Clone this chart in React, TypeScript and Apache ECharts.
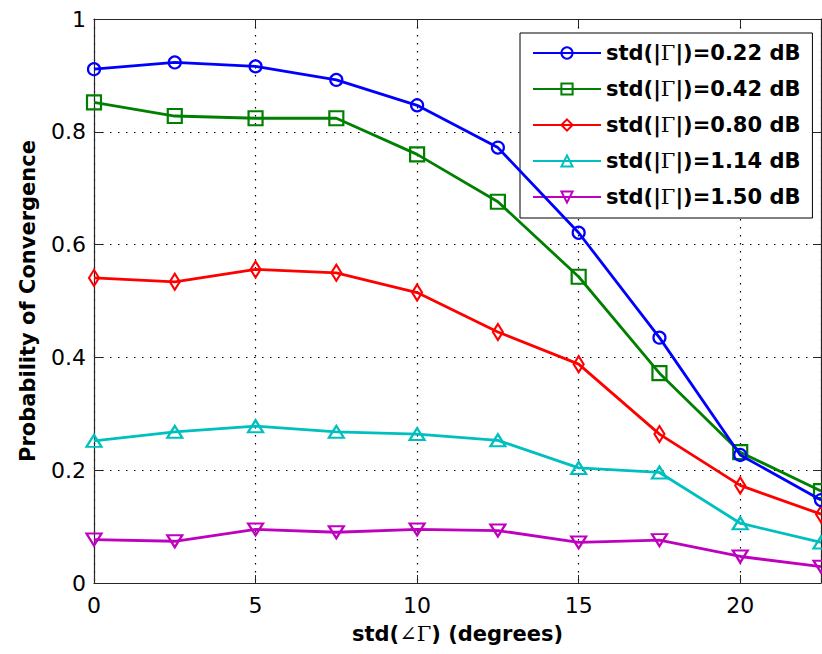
import React, { useEffect, useRef } from "react";
import * as echarts from "echarts";

const xValues = [0, 2.5, 5, 7.5, 10, 12.5, 15, 17.5, 20, 22.5];
const seriesNames = [
  "std(|Γ|)=0.22 dB",
  "std(|Γ|)=0.42 dB",
  "std(|Γ|)=0.80 dB",
  "std(|Γ|)=1.14 dB",
  "std(|Γ|)=1.50 dB",
];
const blueValues = [0.911, 0.923, 0.916, 0.892, 0.847, 0.772, 0.621, 0.435, 0.227, 0.147];
const greenValues = [0.852, 0.828, 0.824, 0.824, 0.76, 0.676, 0.543, 0.372, 0.232, 0.163];
const redValues = [0.541, 0.534, 0.556, 0.55, 0.515, 0.445, 0.388, 0.264, 0.173, 0.122];
const cyanValues = [0.252, 0.268, 0.278, 0.268, 0.264, 0.253, 0.204, 0.196, 0.106, 0.072];
const magentaValues = [0.077, 0.074, 0.095, 0.09, 0.095, 0.093, 0.072, 0.076, 0.047, 0.029];
const xTicks = [0, 5, 10, 15, 20];
const yTicks = [0, 0.2, 0.4, 0.6, 0.8, 1];

const colors = ["#0000FF", "#008000", "#FF0000", "#00BFBF", "#BF00BF"];
const symbols: any[] = ["circle", "rect", "diamond", "triangle", "triangle"];
const symbolSizes: any[] = [12, 14, [10, 16], [15, 12], [15, 12]];
const symbolRotates = [0, 0, 0, 0, 180];
const allValues = [blueValues, greenValues, redValues, cyanValues, magentaValues];

const SANS = "'DejaVu Sans', sans-serif";
const SERIF = "'DejaVu Serif', serif";

export default function App() {
  const ref = useRef<HTMLDivElement>(null);
  useEffect(() => {
    if (!ref.current) return;
    const chart = echarts.init(ref.current, undefined, { renderer: "svg" });
    const gridStyle = {
      show: true,
      lineStyle: { color: "#000", width: 1.2, type: [1.5, 6.5] as any },
    };
    const series = allValues.map((vals, i) => ({
      name: seriesNames[i],
      type: "line",
      data: vals.map((v, j) => [xValues[j], v]),
      symbol: symbols[i],
      symbolSize: symbolSizes[i],
      symbolRotate: symbolRotates[i],
      showAllSymbol: true,
      clip: false,
      lineStyle: { color: colors[i], width: 2.8 },
      itemStyle: { color: "rgba(255,255,255,0)", borderColor: colors[i], borderWidth: 2.2 },
      emphasis: { disabled: true },
      z: 10 - i,
    }));
    chart.setOption({
      animation: false,
      backgroundColor: "#fff",
      textStyle: { fontFamily: SANS },
      grid: { left: 94, top: 19, right: 1, bottom: 71, containLabel: false },
      legend: {
        orient: "vertical",
        left: 520,
        top: 33,
        padding: [9, 12, 10, 12],
        itemGap: 14,
        itemWidth: 68,
        itemHeight: 14,
        backgroundColor: "#fff",
        borderColor: "#000",
        borderWidth: 1,
        borderRadius: 0,
        data: seriesNames,
        formatter: (name: string) => name.replace("Γ", "{g|Γ}"),
        textStyle: {
          fontFamily: SANS,
          fontWeight: "bold",
          fontSize: 21,
          lineHeight: 22,
          color: "#000",
          rich: {
            g: { fontFamily: SERIF, fontWeight: "normal", fontSize: 21, lineHeight: 22, color: "#000" },
          },
        },
      },
      xAxis: [
        {
          type: "value",
          min: 0,
          max: 22.5,
          interval: 5,
          name: "std({g|∠Γ}) (degrees)",
          nameLocation: "middle",
          nameGap: 40,
          nameTextStyle: {
            fontFamily: SANS,
            fontWeight: "bold",
            fontSize: 21,
            color: "#000",
            rich: { g: { fontFamily: SERIF, fontWeight: "normal", fontSize: 21, color: "#000" } },
          },
          axisLine: { show: true, onZero: false, lineStyle: { color: "#262626", width: 1.2 } },
          axisTick: { show: true, inside: true, length: 8, lineStyle: { color: "#262626" } },
          axisLabel: {
            fontFamily: SANS,
            fontSize: 22,
            color: "#000",
            margin: 11,
            showMaxLabel: false,
            formatter: (v: number) => (xTicks.includes(v) ? String(v) : ""),
          },
          splitLine: gridStyle,
        },
        {
          type: "value",
          position: "top",
          min: 0,
          max: 22.5,
          interval: 5,
          axisLine: { show: true, onZero: false, lineStyle: { color: "#262626", width: 1.2 } },
          axisTick: { show: true, inside: true, length: 8, lineStyle: { color: "#262626" } },
          axisLabel: { show: false },
          splitLine: { show: false },
        },
      ],
      yAxis: [
        {
          type: "value",
          min: 0,
          max: 1,
          interval: 0.2,
          name: "Probability of Convergence",
          nameLocation: "middle",
          nameGap: 56,
          nameRotate: 90,
          nameTextStyle: { fontFamily: SANS, fontWeight: "bold", fontSize: 21, color: "#000" },
          axisLine: { show: true, onZero: false, lineStyle: { color: "#262626", width: 1.2 } },
          axisTick: { show: true, inside: true, length: 8, lineStyle: { color: "#262626" } },
          axisLabel: {
            fontFamily: SANS,
            fontSize: 22,
            color: "#000",
            margin: 8,
            formatter: (v: number) => {
              const t = yTicks.find((y) => Math.abs(y - v) < 1e-9);
              return t === undefined ? "" : String(t);
            },
          },
          splitLine: gridStyle,
        },
        {
          type: "value",
          position: "right",
          min: 0,
          max: 1,
          interval: 0.2,
          axisLine: { show: true, onZero: false, lineStyle: { color: "#262626", width: 1.2 } },
          axisTick: { show: true, inside: true, length: 8, lineStyle: { color: "#262626" } },
          axisLabel: { show: false },
          splitLine: { show: false },
        },
      ],
      series,
    });
    return () => chart.dispose();
  }, []);
  return (
    <div
      ref={ref}
      style={{ position: "fixed", left: 0, top: 0, width: 822, height: 654, background: "#fff" }}
    />
  );
}
